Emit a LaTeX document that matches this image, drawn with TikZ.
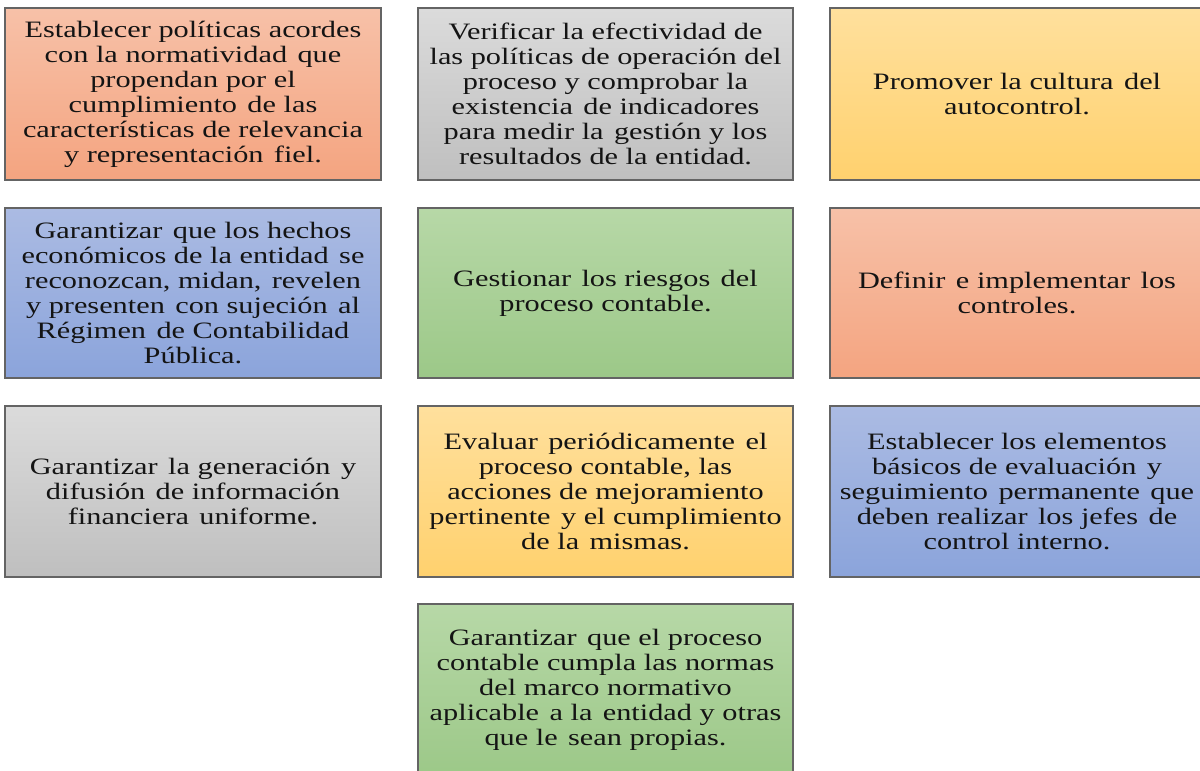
\documentclass[tikz,border=0pt]{standalone}
\usepackage{fontspec}
\setmainfont{Liberation Serif}[FakeStretch=1.29]
\newcommand{\xs}{\hspace{0.12em}}
\definecolor{orT}{RGB}{247,193,168}
\definecolor{orB}{RGB}{244,164,128}
\definecolor{grT}{RGB}{219,219,219}
\definecolor{grB}{RGB}{191,191,191}
\definecolor{yeT}{RGB}{255,224,157}
\definecolor{yeB}{RGB}{255,209,110}
\definecolor{blT}{RGB}{171,187,227}
\definecolor{blB}{RGB}{139,164,219}
\definecolor{gnT}{RGB}{183,216,167}
\definecolor{gnB}{RGB}{156,200,136}
\definecolor{bord}{RGB}{100,100,100}
\definecolor{txt}{RGB}{20,20,20}
\tikzset{
  box/.style={draw=bord, line width=1.2pt, rectangle, inner sep=0pt, align=center,
    text=txt, font=\fontsize{23.5}{25}\selectfont},
  c1/.style={box, minimum width=376pt},
  c2/.style={box, minimum width=375pt},
  c3/.style={box, minimum width=374pt},
  r1/.style={minimum height=172pt},
  r2/.style={minimum height=170pt},
  r3/.style={minimum height=171pt},
  r4/.style={minimum height=172pt},
  orange/.style={top color=orT, bottom color=orB},
  gray/.style={top color=grT, bottom color=grB},
  yellow/.style={top color=yeT, bottom color=yeB},
  blue/.style={top color=blT, bottom color=blB},
  green/.style={top color=gnT, bottom color=gnB}
}
\begin{document}
\begin{tikzpicture}[x=1pt,y=-1pt]
\useasboundingbox (0,0) rectangle (1200,771);
\clip (0,0) rectangle (1200,771);
\fill[white] (0,0) rectangle (1200,771);
% row 1
\node[c1,r1,orange] (a1) at (193,94) {Establecer políticas acordes\\con la normatividad \xs que\\propendan por el\\cumplimiento \xs de las\\características de relevancia\\y representación \xs fiel.};
\node[c2,r1,gray] (a2) at (605.5,94) {Verificar la efectividad de\\las políticas de operación del\\proceso y comprobar la\\existencia \xs de indicadores\\para medir la \xs gestión y los\\resultados de la entidad.};
\node[c3,r1,yellow] (a3) at (1017,94) {Promover la cultura \xs del\\autocontrol.};
% row 2
\node[c1,r2,blue] (b1) at (193,293) {Garantizar \xs que los hechos\\económicos de la entidad \xs se\\reconozcan, midan, \xs revelen\\y presenten \xs con sujeción \xs al\\Régimen \xs de Contabilidad\\Pública.};
\node[c2,r2,green] (b2) at (605.5,293) {Gestionar \xs los riesgos \xs del\\proceso contable.};
\node[c3,r2,orange] (b3) at (1017,293) {Definir \xs e implementar \xs los\\controles.};
% row 3
\node[c1,r3,gray] (c1n) at (193,491.5) {Garantizar \xs la generación \xs y\\difusión \xs de información\\financiera \xs uniforme.};
\node[c2,r3,yellow] (c2n) at (605.5,491.5) {Evaluar \xs periódicamente \xs el\\proceso contable, las\\acciones de mejoramiento\\pertinente \xs y el cumplimiento\\de la \xs mismas.};
\node[c3,r3,blue] (c3n) at (1017,491.5) {Establecer los elementos\\básicos de evaluación \xs y\\seguimiento \xs permanente \xs que\\deben realizar \xs los jefes \xs de\\control interno.};
% row 4
\node[c2,r4,green] (d2) at (605.5,690) {Garantizar \xs que el proceso\\contable cumpla las normas\\del marco normativo\\aplicable \xs a la \xs entidad y otras\\que le \xs sean propias.};
\end{tikzpicture}
\end{document}
